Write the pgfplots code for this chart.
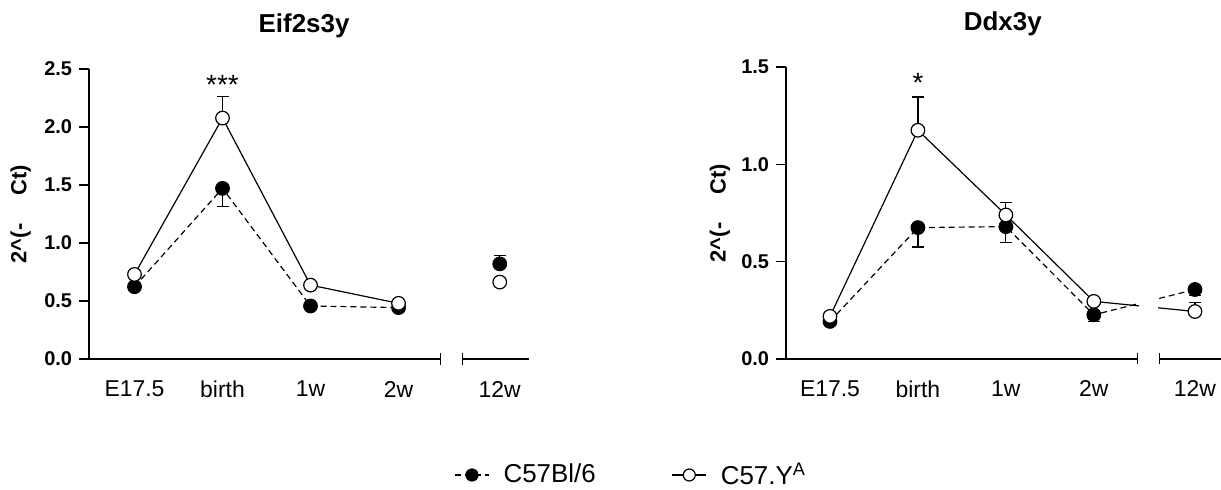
\documentclass[border=0pt]{standalone}
\usepackage{pgfplots}
\pgfplotsset{compat=1.18}
\usepackage{fontspec}
\setmainfont{Liberation Sans}

% 1 px of the reference = 0.5bp
\pgfplotsset{
  panel/.style={
    scale only axis, clip=false,
    axis y line*=left, axis x line*=bottom,
    x axis line style={draw=none},
    y axis line style={line width=0.6pt},
    xtick={0,1,2,3,4.15},
    xticklabels={E17.5,birth,1w,2w,12w},
    xtick style={draw=none},
    xticklabel style={font=\fontsize{11.5}{13}\selectfont, anchor=center, yshift=-10bp},
    ytick style={line width=0.6pt, black},
    tick align=outside, major tick length=5bp,
    yticklabel style={font=\bfseries\fontsize{10}{11}\selectfont,
      /pgf/number format/fixed, /pgf/number format/fixed zerofill,
      /pgf/number format/precision=1},
    /pgf/number format/assume math mode=true,
    ylabel={2\^{}(-\hspace{1.3em}Ct)},
    ylabel style={font=\bfseries\fontsize{11}{12}\selectfont, anchor=center},
    title style={font=\bfseries\fontsize{13}{14}\selectfont, anchor=center},
  },
  blk/.style={black, line width=0.6pt, dash pattern=on 3pt off 2pt,
    mark=*, mark size=3.4bp, mark options={solid, fill=black}},
  opn/.style={black, line width=0.6pt, solid,
    mark=*, mark size=3.4bp, mark options={solid, fill=white, line width=0.6pt}},
  ebar/.style={draw=none, forget plot,
    error bars/.cd, y explicit, y dir=#1,
    error bar style={draw=black, solid, line width=0.6pt},
    error mark options={draw=black, solid, rotate=90, mark size=3bp, line width=0.6pt}},
}

\begin{document}
\begin{tikzpicture}

% ---------- Eif2s3y ----------
\begin{axis}[panel,
  at={(44.5bp,65.5bp)}, anchor=south west,
  width=219.9bp, height=145bp,
  xmin=-0.517, xmax=4.48, ymin=0, ymax=2.5,
  ytick={0,0.5,1,1.5,2,2.5},
  title={Eif2s3y},
  title style={at={(axis description cs:0.489,1)}, yshift=15.5bp},
  ylabel style={at={(axis description cs:-0.155,0.5)}},
  legend columns=2,
  legend style={draw=none, fill=none, at={(axis description cs:1.235,-0.40)}, anchor=center,
    font=\fontsize{13}{14}\selectfont, cells={anchor=west},
    /tikz/every odd column/.append style={column sep=5bp},
    /tikz/every even column/.append style={column sep=36bp}},
  legend image code/.code={\draw[mark repeat=2, mark phase=2, #1, mark size=3bp]
    plot coordinates {(0bp,0bp) (8.5bp,0bp) (17bp,0bp)};},
]
\draw[line width=0.6pt] (axis cs:-0.517,0) -- (axis cs:3.48,0);
\draw[line width=0.6pt] ([yshift=-2.75bp]axis cs:3.48,0) -- ([yshift=2.75bp]axis cs:3.48,0);
\draw[line width=0.6pt] (axis cs:3.73,0) -- (axis cs:4.48,0);
\draw[line width=0.6pt] ([yshift=-2.75bp]axis cs:3.73,0) -- ([yshift=2.75bp]axis cs:3.73,0);

\addplot[ebar=minus] coordinates {(1,1.471) +- (0,0.157)};
\addplot[ebar=plus]  coordinates {(4.15,0.82) +- (0,0.07)};
\addplot[ebar=plus]  coordinates {(1,2.077) +- (0,0.186)};

%% C57Bl/6
\addplot[blk] coordinates {(0,0.623) (1,1.471) (2,0.457) (3,0.443)};
%% C57.Y^A
\addplot[opn] coordinates {(0,0.729) (1,2.077) (2,0.637) (3,0.480)};
\addplot[blk, forget plot, only marks] coordinates {(4.15,0.82)};
\addplot[opn, forget plot, only marks] coordinates {(4.15,0.663)};
\legend{C57Bl/6, C57.Y\textsuperscript{A}}

\node[font=\fontsize{14}{15}\selectfont] at (axis cs:1,2.36) {***};
\end{axis}

% ---------- Ddx3y ----------
\begin{axis}[panel,
  at={(393bp,65.5bp)}, anchor=south west,
  width=219bp, height=146bp,
  xmin=-0.5, xmax=4.48, ymin=0, ymax=1.5,
  ytick={0,0.5,1,1.5},
  title={Ddx3y},
  title style={at={(axis description cs:0.495,1)}, yshift=15.5bp},
  ylabel style={at={(axis description cs:-0.151,0.5)}},
]
\draw[line width=0.6pt] (axis cs:-0.5,0) -- (axis cs:3.5,0);
\draw[line width=0.6pt] ([yshift=-2.75bp]axis cs:3.5,0) -- ([yshift=2.75bp]axis cs:3.5,0);
\draw[line width=0.6pt] (axis cs:3.75,0) -- (axis cs:4.48,0);
\draw[line width=0.6pt] ([yshift=-2.75bp]axis cs:3.75,0) -- ([yshift=2.75bp]axis cs:3.75,0);

\addplot[ebar=minus] coordinates {(1,0.675) +- (0,0.10) (2,0.68) +- (0,0.08) (3,0.227) +- (0,0.034) (4.15,0.357) +- (0,0.032)};
\addplot[ebar=plus]  coordinates {(1,1.175) +- (0,0.171) (2,0.74) +- (0,0.065) (4.15,0.244) +- (0,0.048)};

%% C57Bl/6
\addplot[blk] coordinates {(0,0.193) (1,0.675) (2,0.68) (3,0.227) (4.15,0.357)};
%% C57.Y^A
\addplot[opn] coordinates {(0,0.219) (1,1.175) (2,0.74) (3,0.296) (4.15,0.244)};

% gap of the lines at the axis break
\fill[white] (axis cs:3.51,0.24) rectangle (axis cs:3.73,0.35);

\node[font=\fontsize{14}{15}\selectfont] at (axis cs:1,1.42) {*};
\end{axis}

\pgfresetboundingbox
\useasboundingbox (0,0) rectangle (610.5bp,245bp);
\end{tikzpicture}
\end{document}
